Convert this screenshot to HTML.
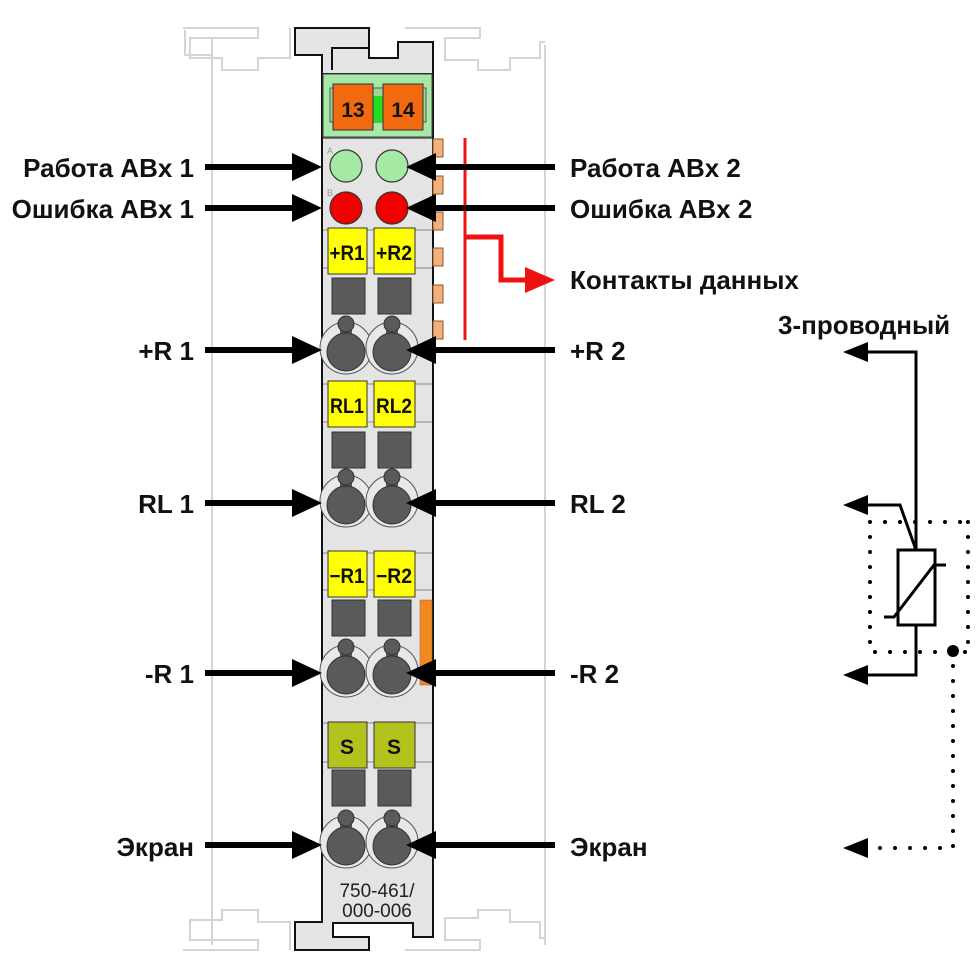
<!DOCTYPE html>
<html><head><meta charset="utf-8"><style>
html,body{margin:0;padding:0;background:#fff;}
svg{display:block;}
text{font-family:"Liberation Sans",Arial,sans-serif;}
.lbl{font-size:26px;font-weight:bold;fill:#111;}
.tag{font-family:"Liberation Sans",sans-serif;font-size:21px;font-weight:bold;fill:#111;text-anchor:middle;}
</style></head><body>
<svg width="980" height="980" viewBox="0 0 980 980" xmlns="http://www.w3.org/2000/svg">
<defs>
<g id="clamp">
  <circle cx="0" cy="-2" r="26" fill="#e8e8e8" stroke="#555" stroke-width="1"/>
  <rect x="-6" y="-30" width="12" height="24" fill="#5a5a5a"/>
  <circle cx="0" cy="-26" r="8" fill="#5a5a5a" stroke="#333" stroke-width="1"/>
  <circle cx="0" cy="2" r="19" fill="#5a5a5a" stroke="#333" stroke-width="1"/>
</g>
<g id="sq"><rect x="0" y="0" width="33" height="36" fill="#5a5a5a" stroke="#333" stroke-width="1"/></g>
<g id="arrR"><line x1="205" y1="0" x2="298" y2="0" stroke="#000" stroke-width="6"/><polygon points="292,-14 322,0 292,14" fill="#000"/></g>
<g id="arrL"><line x1="555" y1="0" x2="430" y2="0" stroke="#000" stroke-width="6"/><polygon points="436,-14 406,0 436,14" fill="#000"/></g>
</defs>

<!-- background rail outlines -->
<g fill="none" stroke="#d4d4d4" stroke-width="2">
  <path d="M212,38 V945 M545,45 V945"/>
  <path d="M183,28 H258 V38 H190 V58 H222 V70 H258 V58 H290 V28"/>
  <path d="M185,30 V55 H212"/>
  <path d="M405,28 H480 V38 H445 V60 H478 V70 H510 V58 H540 V42 H545"/>
  <path d="M183,950 H258 V940 H190 V920 H222 V910 H258 V922 H290 V950"/>
  <path d="M405,950 H480 V940 H445 V918 H478 V910 H510 V922 H540 V938 H545"/>
</g>

<!-- module body -->
<path d="M322,70 V922 H295 V950 H369 V937 H333 V923 H413 V937 H433 V70 Z" fill="#e4e4e4" stroke="#111" stroke-width="2"/>
<path d="M295,28 H369 V58 H398 V42 H433 V74 H322 V55 H295 Z" fill="#e4e4e4" stroke="#111" stroke-width="2"/>
<path d="M332,70 V48 H369" fill="none" stroke="#111" stroke-width="2"/>
<rect x="323" y="74" width="109" height="63" fill="#a6e8a6" stroke="#444" stroke-width="1"/>
<rect x="330" y="88" width="96" height="34" fill="#9ad89a" stroke="#555" stroke-width="1"/>
<rect x="370" y="96" width="14" height="26" fill="#22dd22"/>
<rect x="333" y="84" width="40" height="46" fill="#f26a10" stroke="#333" stroke-width="1"/>
<rect x="383" y="84" width="40" height="46" fill="#f26a10" stroke="#333" stroke-width="1"/>
<text class="tag" x="353" y="117" font-size="22">13</text>
<text class="tag" x="403" y="117" font-size="22">14</text>
<line x1="323" y1="138" x2="432" y2="138" stroke="#555" stroke-width="1.5"/>

<!-- orange contacts -->
<g fill="#f4b07a" stroke="#8a5a30" stroke-width="1">
  <rect x="433" y="139" width="10" height="18"/><rect x="433" y="176" width="10" height="18"/>
  <rect x="433" y="212" width="10" height="18"/><rect x="433" y="248" width="10" height="18"/>
  <rect x="433" y="285" width="10" height="18"/><rect x="433" y="321" width="10" height="18"/>
</g>
<rect x="420" y="600" width="12" height="85" fill="#f08a20" stroke="#a55" stroke-width="0.5"/>

<!-- LEDs -->
<text x="327" y="154" font-size="9" fill="#999">A</text>
<text x="327" y="196" font-size="9" fill="#999">B</text>
<circle cx="346" cy="166" r="16" fill="#a4eaa4" stroke="#333" stroke-width="1.2"/>
<circle cx="392" cy="166" r="16" fill="#a4eaa4" stroke="#333" stroke-width="1.2"/>
<circle cx="346" cy="208" r="16" fill="#f20000" stroke="#333" stroke-width="1.2"/>
<circle cx="392" cy="208" r="16" fill="#f20000" stroke="#333" stroke-width="1.2"/>

<!-- row separators -->
<g stroke="#888" stroke-width="1">
  <line x1="323" y1="230" x2="432" y2="230"/><line x1="323" y1="268" x2="432" y2="268"/>
  <line x1="323" y1="384" x2="432" y2="384"/><line x1="323" y1="422" x2="432" y2="422"/>
  <line x1="323" y1="553" x2="432" y2="553"/><line x1="323" y1="590" x2="432" y2="590"/>
  <line x1="323" y1="723" x2="432" y2="723"/><line x1="323" y1="762" x2="432" y2="762"/>
</g>

<!-- labels -->
<g stroke="#333" stroke-width="1">
  <rect x="328" y="228" width="39" height="46" fill="#ffff00"/><rect x="374" y="228" width="41" height="46" fill="#ffff00"/>
  <rect x="328" y="381" width="39" height="46" fill="#ffff00"/><rect x="374" y="381" width="41" height="46" fill="#ffff00"/>
  <rect x="328" y="551" width="39" height="46" fill="#ffff00"/><rect x="374" y="551" width="41" height="46" fill="#ffff00"/>
  <rect x="328" y="722" width="39" height="46" fill="#b4c21e"/><rect x="374" y="722" width="41" height="46" fill="#b4c21e"/>
</g>
<text class="tag" x="347" y="260" textLength="35" lengthAdjust="spacingAndGlyphs">+R1</text><text class="tag" x="394" y="260" textLength="36" lengthAdjust="spacingAndGlyphs">+R2</text>
<text class="tag" x="347" y="413" textLength="34" lengthAdjust="spacingAndGlyphs">RL1</text><text class="tag" x="394" y="413" textLength="36" lengthAdjust="spacingAndGlyphs">RL2</text>
<text class="tag" x="347" y="583" textLength="35" lengthAdjust="spacingAndGlyphs">−R1</text><text class="tag" x="394" y="583" textLength="36" lengthAdjust="spacingAndGlyphs">−R2</text>
<text class="tag" x="347" y="754">S</text><text class="tag" x="394" y="754">S</text>

<use href="#sq" x="332" y="278"/><use href="#sq" x="378" y="278"/>
<use href="#sq" x="332" y="432"/><use href="#sq" x="378" y="432"/>
<use href="#sq" x="332" y="600"/><use href="#sq" x="378" y="600"/>
<use href="#sq" x="332" y="770"/><use href="#sq" x="378" y="770"/>

<use href="#clamp" x="346" y="350"/><use href="#clamp" x="392" y="350"/>
<use href="#clamp" x="346" y="503"/><use href="#clamp" x="392" y="503"/>
<use href="#clamp" x="346" y="673"/><use href="#clamp" x="392" y="673"/>
<use href="#clamp" x="346" y="844"/><use href="#clamp" x="392" y="844"/>

<text x="377" y="897" font-size="19" fill="#222" text-anchor="middle">750-461/</text>
<text x="377" y="917" font-size="19" fill="#222" text-anchor="middle">000-006</text>

<!-- red data contacts -->
<line x1="465" y1="138" x2="465" y2="340" stroke="#ee1111" stroke-width="3"/>
<polyline points="465,237 501,237 501,280 530,280" fill="none" stroke="#ee1111" stroke-width="5"/>
<polygon points="525,267 555,280 525,293" fill="#ee1111"/>

<!-- arrows -->
<use href="#arrR" y="167"/><use href="#arrR" y="208"/><use href="#arrR" y="350"/>
<use href="#arrR" y="503"/><use href="#arrR" y="673"/><use href="#arrR" y="845"/>
<use href="#arrL" y="167"/><use href="#arrL" y="208"/><use href="#arrL" y="350"/>
<use href="#arrL" y="503"/><use href="#arrL" y="673"/><use href="#arrL" y="845"/>

<!-- text labels -->
<g class="lbl" text-anchor="end">
  <text x="194" y="177">Работа ABx 1</text>
  <text x="194" y="218">Ошибка ABx 1</text>
  <text x="194" y="360">+R 1</text>
  <text x="194" y="513">RL 1</text>
  <text x="194" y="683">-R 1</text>
  <text x="194" y="856">Экран</text>
</g>
<g class="lbl">
  <text x="570" y="177">Работа ABx 2</text>
  <text x="570" y="218">Ошибка ABx 2</text>
  <text x="570" y="289">Контакты данных</text>
  <text x="570" y="360">+R 2</text>
  <text x="570" y="513">RL 2</text>
  <text x="570" y="683">-R 2</text>
  <text x="570" y="856">Экран</text>
  <text x="778" y="334">3-проводный</text>
</g>

<!-- schematic -->
<g stroke="#000" stroke-width="3" fill="none">
  <polyline points="866,352 916,352 916,550"/>
  <polyline points="866,505 900,505 916,550"/>
  <polyline points="916,625 916,675 866,675"/>
  <rect x="898" y="550" width="37" height="75" fill="#fff"/>
  <polyline points="884,617 894,617 934,565 946,565"/>
</g>
<g fill="#000">
  <polygon points="868,342 843,352 868,362"/>
  <polygon points="868,495 843,505 868,515"/>
  <polygon points="868,665 843,675 868,685"/>
  <polygon points="868,838 843,848 868,858"/>
  <circle cx="953" cy="651" r="6"/>
</g>
<g stroke="#000" stroke-width="4" stroke-linecap="round" stroke-dasharray="0 15" fill="none">
  <path d="M870,522 H968 M870,522 V652 H968 M968,522 V652"/>
  <path d="M953,651 V848 H870"/>
</g>
</svg>
</body></html>
